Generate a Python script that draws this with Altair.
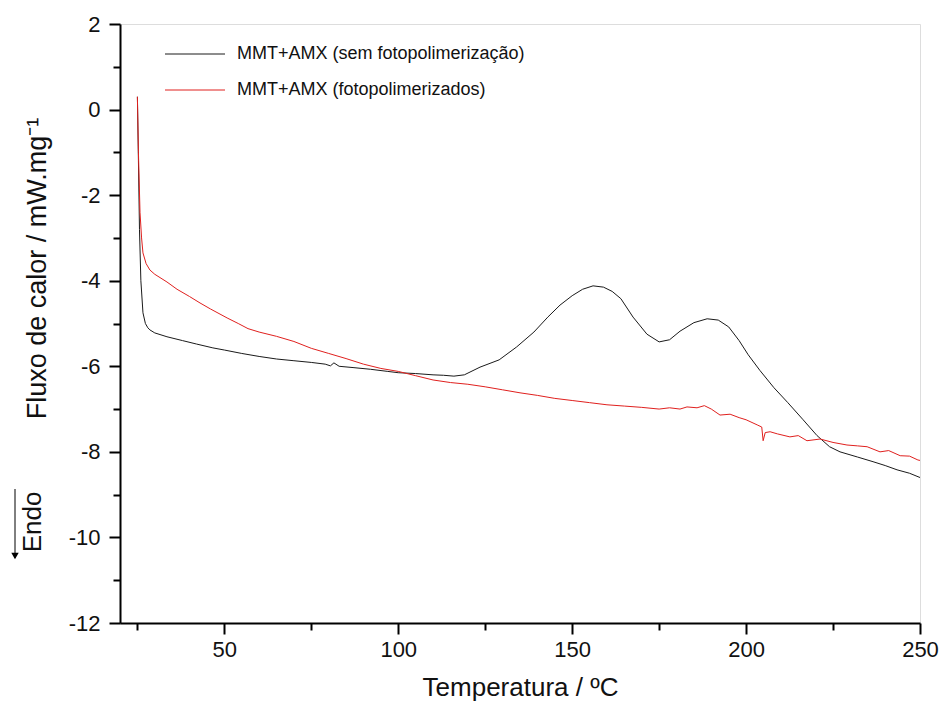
import altair as alt
import pandas as pd

# --- data ---
series_names = ["MMT+AMX (sem fotopolimerização)", "MMT+AMX (fotopolimerizados)"]
series_colors = ["#1a1a1a", "#e0201e"]

x_sem = [25, 25.3, 25.6, 26, 26.6, 27.3, 28, 28.6, 30, 33.5, 38, 42, 46.7, 50, 55, 60, 65, 70, 75,
         79, 80.5, 81.5, 83, 87, 92, 97, 100, 105, 110, 113, 116, 119, 123.5, 129, 134, 139, 143,
         146.5, 150, 153, 156, 159, 161.5, 164, 167.5, 171.5, 175, 178, 181, 185, 188.8, 192, 195,
         198, 200.6, 204, 208, 212, 216.4, 220.4, 224, 227, 232, 236.5, 240, 243.4, 247, 250]
y_sem = [0.3, -1.2, -2.8, -4.0, -4.75, -5.0, -5.1, -5.15, -5.22, -5.31, -5.4, -5.48, -5.57, -5.62,
         -5.7, -5.77, -5.83, -5.87, -5.91, -5.95, -5.99, -5.92, -6.0, -6.03, -6.07, -6.12, -6.15,
         -6.17, -6.2, -6.21, -6.23, -6.2, -6.02, -5.85, -5.55, -5.2, -4.85, -4.57, -4.35, -4.2,
         -4.12, -4.15, -4.25, -4.42, -4.85, -5.25, -5.43, -5.38, -5.18, -4.98, -4.89, -4.92, -5.08,
         -5.4, -5.73, -6.1, -6.5, -6.85, -7.25, -7.62, -7.88, -8.0, -8.12, -8.23, -8.32, -8.42,
         -8.5, -8.6]

x_foto = [25, 25.3, 25.75, 26.2, 26.6, 27.5, 28.6, 30, 33.5, 36.4, 40, 43, 46, 50.8, 54, 56.8, 60,
          65, 70, 75, 80, 85, 90, 95, 100, 105, 110, 115, 120, 125, 130, 135, 140, 145, 150, 155,
          160, 165, 170, 175, 178, 181, 183, 185.9, 188, 190, 192.5, 195.4, 198, 200, 203.2, 204.5,
          204.9, 205.5, 206.9, 209, 212.6, 215, 217.5, 221.3, 225, 229, 232, 234.8, 238.5, 241,
          244.3, 247, 249.4, 250]
y_foto = [0.3, -1.0, -2.4, -3.0, -3.35, -3.6, -3.75, -3.85, -4.03, -4.2, -4.37, -4.52, -4.66,
          -4.87, -5.0, -5.12, -5.2, -5.3, -5.42, -5.58, -5.7, -5.82, -5.95, -6.05, -6.12, -6.22,
          -6.32, -6.38, -6.42, -6.48, -6.55, -6.62, -6.68, -6.75, -6.8, -6.85, -6.9, -6.93, -6.96,
          -7.0, -6.97, -7.0, -6.95, -6.97, -6.92, -7.0, -7.14, -7.12, -7.2, -7.25, -7.37, -7.42,
          -7.74, -7.55, -7.53, -7.58, -7.65, -7.62, -7.74, -7.7, -7.78, -7.84, -7.86, -7.88, -8.0,
          -7.97, -8.09, -8.1, -8.19, -8.2]

x_major = [50, 100, 150, 200, 250]
x_minor = [25, 75, 125, 175, 225]
y_major = [-12, -10, -8, -6, -4, -2, 0, 2]
y_minor = [-11, -9, -7, -5, -3, -1, 1]

x_title = "Temperatura / ºC"
y_title = "Fluxo de calor / mW.mg⁻¹"
endo_label = ["Endo"]

df = pd.concat([
    pd.DataFrame({"x": x_sem, "y": y_sem, "serie": series_names[0]}),
    pd.DataFrame({"x": x_foto, "y": y_foto, "serie": series_names[1]}),
], ignore_index=True)

FONT = "Liberation Sans"

xscale = alt.Scale(domain=[20, 250], nice=False, zero=False)
yscale = alt.Scale(domain=[-12, 2], nice=False, zero=False)

axis_common = dict(domainColor="black", domainWidth=2, tickColor="black", tickWidth=2,
                   grid=False, labelFont=FONT, titleFont=FONT, labelColor="#111",
                   titleColor="#111", titleFontWeight="normal",
                   labelExpr="'' + datum.value")

main = alt.Chart(df).mark_line(strokeWidth=1).encode(
    x=alt.X("x:Q", scale=xscale,
            axis=alt.Axis(values=x_major, tickSize=11, labelFontSize=22, labelPadding=5,
                          title=x_title, titleFontSize=26, titlePadding=14, orient="bottom",
                          labelFlush=False, **axis_common)),
    y=alt.Y("y:Q", scale=yscale,
            axis=alt.Axis(values=y_major, tickSize=11, labelFontSize=22, labelPadding=9,
                          title=y_title, titleFontSize=27, titleX=-83, titleY=244,
                          titleAlign="center", titleBaseline="middle", titleAngle=270,
                          orient="left", labelFlush=False, **axis_common)),
    color=alt.Color("serie:N", scale=alt.Scale(domain=series_names, range=series_colors),
                    legend=None),
)

minor = alt.Chart(df).mark_line(opacity=0).encode(
    x=alt.X("x:Q", scale=xscale,
            axis=alt.Axis(values=x_minor, tickSize=7, labels=False, domain=False, title=None,
                          orient="bottom", tickColor="black", tickWidth=2, grid=False)),
    y=alt.Y("y:Q", scale=yscale,
            axis=alt.Axis(values=y_minor, tickSize=7, labels=False, domain=False, title=None,
                          orient="left", tickColor="black", tickWidth=2, grid=False)),
    detail="serie:N",
)

# legend (line sample + label for each series)
legend_layers = []
for i, (name, col) in enumerate(zip(series_names, series_colors)):
    ldf = pd.DataFrame({"t": [name]})
    row_y = 30 + 36 * i
    legend_layers.append(alt.Chart(ldf).mark_rule(color=col, strokeWidth=1).encode(
        x=alt.value(45), x2=alt.value(105), y=alt.value(row_y)))
    legend_layers.append(alt.Chart(ldf).mark_text(font=FONT, fontSize=18, color="#111",
                                                  align="left", baseline="middle").encode(
        text="t:N", x=alt.value(117), y=alt.value(row_y)))

endo_df = pd.DataFrame({"t": endo_label})
endo_text = alt.Chart(endo_df).mark_text(angle=270, font=FONT, fontSize=26, color="#111",
                                         align="center", baseline="middle").encode(
    text="t:N", x=alt.value(-87), y=alt.value(498))
endo_line = alt.Chart(endo_df).mark_rule(color="black", strokeWidth=1).encode(
    x=alt.value(-105), y=alt.value(465), y2=alt.value(534))
endo_head = alt.Chart(endo_df).mark_point(shape="triangle-down", filled=True, color="black",
                                          size=55, opacity=1).encode(
    x=alt.value(-105), y=alt.value(532))

chart = alt.layer(main, minor, *legend_layers, endo_text, endo_line, endo_head).resolve_axis(
    x="independent", y="independent"
).properties(
    width=800, height=599,
    autosize=alt.AutoSizeParams(type="none"),
    padding={"left": 120, "top": 24, "right": 21, "bottom": 88},
).configure_view(stroke=None).configure(background="white")

chart.save("out.html", embed_options={"renderer": "svg", "actions": False})
